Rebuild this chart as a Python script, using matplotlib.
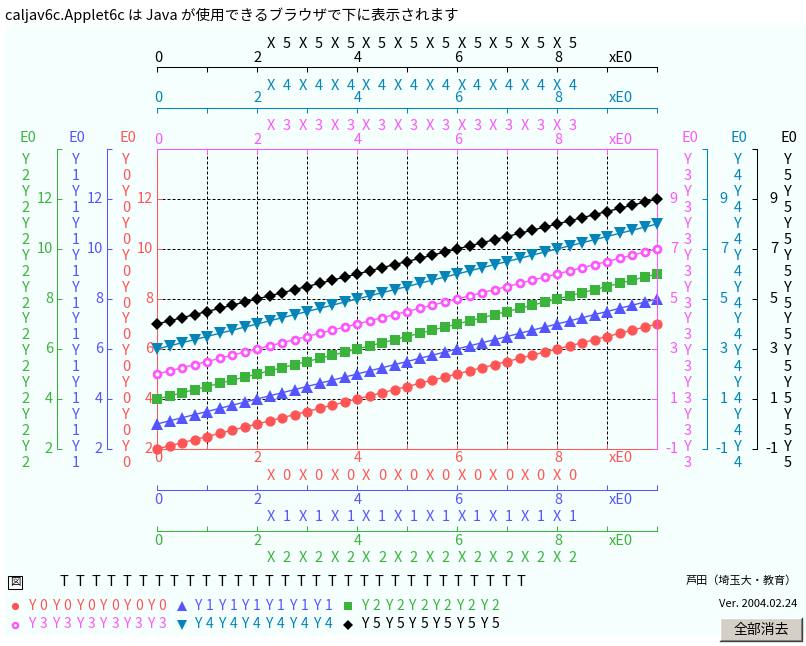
import matplotlib
matplotlib.use('Agg')
import matplotlib.pyplot as plt
from matplotlib.lines import Line2D
from matplotlib.patches import Rectangle
from matplotlib.transforms import blended_transform_factory as btf, ScaledTranslation

plt.rcParams['font.family'] = ['Noto Sans CJK JP', 'DejaVu Sans']

# ---------------- data ----------------
X = [0, 0.25, 0.5, 0.75, 1, 1.25, 1.5, 1.75, 2, 2.25, 2.5, 2.75, 3, 3.25, 3.5, 3.75,
     4, 4.25, 4.5, 4.75, 5, 5.25, 5.5, 5.75, 6, 6.25, 6.5, 6.75, 7, 7.25, 7.5, 7.75,
     8, 8.25, 8.5, 8.75, 9, 9.25, 9.5, 9.75, 10]
Y0 = [2, 2.125, 2.25, 2.375, 2.5, 2.625, 2.75, 2.875, 3, 3.125, 3.25, 3.375, 3.5, 3.625,
      3.75, 3.875, 4, 4.125, 4.25, 4.375, 4.5, 4.625, 4.75, 4.875, 5, 5.125, 5.25, 5.375,
      5.5, 5.625, 5.75, 5.875, 6, 6.125, 6.25, 6.375, 6.5, 6.625, 6.75, 6.875, 7]
Y1 = [3, 3.125, 3.25, 3.375, 3.5, 3.625, 3.75, 3.875, 4, 4.125, 4.25, 4.375, 4.5, 4.625,
      4.75, 4.875, 5, 5.125, 5.25, 5.375, 5.5, 5.625, 5.75, 5.875, 6, 6.125, 6.25, 6.375,
      6.5, 6.625, 6.75, 6.875, 7, 7.125, 7.25, 7.375, 7.5, 7.625, 7.75, 7.875, 8]
Y2 = [4, 4.125, 4.25, 4.375, 4.5, 4.625, 4.75, 4.875, 5, 5.125, 5.25, 5.375, 5.5, 5.625,
      5.75, 5.875, 6, 6.125, 6.25, 6.375, 6.5, 6.625, 6.75, 6.875, 7, 7.125, 7.25, 7.375,
      7.5, 7.625, 7.75, 7.875, 8, 8.125, 8.25, 8.375, 8.5, 8.625, 8.75, 8.875, 9]
# right-hand scale series
Y3 = [2, 2.125, 2.25, 2.375, 2.5, 2.625, 2.75, 2.875, 3, 3.125, 3.25, 3.375, 3.5, 3.625,
      3.75, 3.875, 4, 4.125, 4.25, 4.375, 4.5, 4.625, 4.75, 4.875, 5, 5.125, 5.25, 5.375,
      5.5, 5.625, 5.75, 5.875, 6, 6.125, 6.25, 6.375, 6.5, 6.625, 6.75, 6.875, 7]
Y4 = [3, 3.125, 3.25, 3.375, 3.5, 3.625, 3.75, 3.875, 4, 4.125, 4.25, 4.375, 4.5, 4.625,
      4.75, 4.875, 5, 5.125, 5.25, 5.375, 5.5, 5.625, 5.75, 5.875, 6, 6.125, 6.25, 6.375,
      6.5, 6.625, 6.75, 6.875, 7, 7.125, 7.25, 7.375, 7.5, 7.625, 7.75, 7.875, 8]
Y5 = [4, 4.125, 4.25, 4.375, 4.5, 4.625, 4.75, 4.875, 5, 5.125, 5.25, 5.375, 5.5, 5.625,
      5.75, 5.875, 6, 6.125, 6.25, 6.375, 6.5, 6.625, 6.75, 6.875, 7, 7.125, 7.25, 7.375,
      7.5, 7.625, 7.75, 7.875, 8, 8.125, 8.25, 8.375, 8.5, 8.625, 8.75, 8.875, 9]

X_TICKS = [0, 2, 4, 6, 8]
X_TICK_LABELS = ['0', '2', '4', '6', '8']
X_UNIT = 'xE0'
YL_TICKS = [2, 4, 6, 8, 10, 12]
YR_TICKS = [-1, 1, 3, 5, 7, 9]
Y_UNIT = 'E0'
X_TITLES = ['X0' * 10, 'X1' * 10, 'X2' * 10, 'X3' * 10, 'X4' * 10, 'X5' * 10]
Y_TITLES = ['Y0' * 10, 'Y1' * 10, 'Y2' * 10, 'Y3' * 10, 'Y4' * 10, 'Y5' * 10]
LEGEND_LABELS = ['Y0' * 6, 'Y1' * 6, 'Y2' * 6, 'Y3' * 6, 'Y4' * 6, 'Y5' * 6]
TITLE = 'caljav6c.Applet6c は Java が使用できるブラウザで下に表示されます'
FIG_LABEL = '図'
T_ROW = 'T' * 30
AUTHOR = '芦田（埼玉大・教育）'
VERSION = 'Ver. 2004.02.24'
BUTTON = '全部消去'

# ---------------- style ----------------
W, H = 806, 646
BG = '#f5fffe'
RED = '#ff5555'
BLUE = '#5555ff'
GREEN = '#3cb43c'
MAG = '#ff55ff'
TEAL = '#0484b8'
BLACK = '#000000'
LW = 0.75
TL = 3.6
FS = 10.5

fig = plt.figure(figsize=(W / 100, H / 100), dpi=100)
fig.patch.set_facecolor('white')


def fx(p):
    return p / W


def fy(p):
    return 1 - p / H


fig.add_artist(Rectangle((fx(5), fy(636)), fx(806) - fx(5), fy(25) - fy(636),
                         transform=fig.transFigure, facecolor=BG, edgecolor='none', zorder=-5))

L, R, T, B = 157, 657, 149, 449
ax = fig.add_axes([fx(L), fy(B), (R - L) / W, (B - T) / H])
ax.set_xlim(0, 10)
ax.set_ylim(2, 14)
ax.patch.set_visible(False)

axR = ax.twinx()
axR.set_ylim(-1, 11)


def style_y(a, side, off_px, color, ticks):
    for k, s in a.spines.items():
        s.set_visible(k == side)
    sp = a.spines[side]
    sp.set_position(('outward', off_px * 0.72))
    sp.set_color(color)
    sp.set_linewidth(LW)
    a.yaxis.set_ticks_position(side)
    a.set_yticks(ticks)
    a.tick_params(axis='y', which='both', direction='in', length=TL, width=LW, color=color,
                  labelleft=False, labelright=False)
    a.patch.set_visible(False)


def new_y(side, off_px, color, lim, ticks):
    a = ax.twinx()
    a.set_ylim(*lim)
    style_y(a, side, off_px, color, ticks)
    return a


def new_x(side, off_px, color):
    a = ax.twiny()
    a.set_xlim(0, 10)
    for k, s in a.spines.items():
        s.set_visible(k == side)
    sp = a.spines[side]
    sp.set_position(('outward', off_px * 0.72))
    sp.set_color(color)
    sp.set_linewidth(LW)
    a.xaxis.set_ticks_position(side)
    a.set_xticks(range(11))
    a.tick_params(axis='x', which='both', direction='in', length=TL, width=LW, color=color,
                  labelbottom=False, labeltop=False)
    a.patch.set_visible(False)
    return a


style_y(axR, 'right', 0, MAG, range(-1, 12, 2))
axT = new_x('top', 0, MAG)
axT4 = new_x('top', 41, TEAL)
axT5 = new_x('top', 82, BLACK)
axB1 = new_x('bottom', 41, BLUE)
axB2 = new_x('bottom', 82, GREEN)
axL1 = new_y('left', 50, BLUE, (2, 14), range(2, 15, 2))
axL2 = new_y('left', 100, GREEN, (2, 14), range(2, 15, 2))
axR4 = new_y('right', 50, TEAL, (-1, 11), range(-1, 12, 2))
axR5 = new_y('right', 100, BLACK, (-1, 11), range(-1, 12, 2))

# main frame (left / bottom red)
for k in ('top', 'right'):
    ax.spines[k].set_visible(False)
for k in ('left', 'bottom'):
    ax.spines[k].set_color(RED)
    ax.spines[k].set_linewidth(LW)
ax.set_xticks(range(11))
ax.set_yticks(range(2, 15, 2))
ax.tick_params(axis='x', direction='in', length=TL, width=LW, color=RED,
               top=False, bottom=True, labelbottom=False, labeltop=False)
ax.tick_params(axis='y', direction='in', length=TL, width=LW, color=RED,
               right=False, left=True, labelleft=False, labelright=False)
ax.grid(True, color='black', linestyle=(0, (3, 2)), linewidth=0.72)
gx = ax.get_xgridlines()
gx[0].set_visible(False)
gx[-1].set_visible(False)
gy = ax.get_ygridlines()
gy[0].set_visible(False)
gy[-1].set_visible(False)

# ---------------- series ----------------
ax.plot(X, Y0, color=RED, lw=1, marker='o', ms=7.4, mew=0, clip_on=False, zorder=5)
ax.plot(X, Y1, color=BLUE, lw=1, marker='^', ms=8.5, mew=0, clip_on=False, zorder=5)
ax.plot(X, Y2, color=GREEN, lw=1, marker='s', ms=7.2, mew=0, clip_on=False, zorder=5)
axR.plot(X, Y3, color=MAG, lw=1, marker='o', ms=5, mew=2, mfc=BG, mec=MAG, clip_on=False, zorder=5)
axR.plot(X, Y4, color=TEAL, lw=1, marker='v', ms=8.5, mew=0, clip_on=False, zorder=5)
axR.plot(X, Y5, color=BLACK, lw=1, marker='D', ms=6, mew=0, clip_on=False, zorder=5)

# ---------------- tick labels ----------------
tx = btf(ax.transData, fig.transFigure)
shift1 = ScaledTranslation(1 / 100, 0, fig.dpi_scale_trans)
x_axes = [(458, RED), (500, BLUE), (541, GREEN), (140, MAG), (98.5, TEAL), (58, BLACK)]
for ypx, col in x_axes:
    for v, s in zip(X_TICKS, X_TICK_LABELS):
        fig.text(v, fy(ypx), s, transform=tx + shift1, ha='center', va='center',
                 color=col, fontsize=FS)
    fig.text(9, fy(ypx), X_UNIT, transform=tx + ScaledTranslation(2 / 100, 0, fig.dpi_scale_trans),
             ha='left', va='center', color=col, fontsize=FS)

tyl = btf(fig.transFigure, ax.transData)
tyr = btf(fig.transFigure, axR.transData)
for xpx, col in [(153, RED), (103, BLUE), (53, GREEN)]:
    for v in YL_TICKS:
        fig.text(fx(xpx), v, str(v), transform=tyl, ha='right', va='center', color=col, fontsize=FS)
for xpx, col in [(678, MAG), (728, TEAL), (778, BLACK)]:
    for v in YR_TICKS:
        fig.text(fx(xpx), v, str(v), transform=tyr, ha='right', va='center', color=col, fontsize=FS)

# ---------------- axis titles ----------------
x_title_pos = [(476, RED), (517, BLUE), (557.5, GREEN), (126.5, MAG), (85.5, TEAL), (44, BLACK)]
for (ypx, col), title in zip(x_title_pos, X_TITLES):
    for i, ch in enumerate(title):
        fig.text(fx(271 + i * 15.87), fy(ypx), ch, ha='center', va='center', color=col, fontsize=FS)

y_title_pos = [(126, RED), (75.5, BLUE), (26, GREEN), (688, MAG), (737.5, TEAL), (787.5, BLACK)]
for (xpx, col), title in zip(y_title_pos, Y_TITLES):
    for i, ch in enumerate(title):
        fig.text(fx(xpx), fy(160 + i * 15.95), ch, ha='center', va='center', color=col, fontsize=FS)
    fig.text(fx(xpx + 1.5), fy(137.5), Y_UNIT, ha='center', va='center', color=col, fontsize=FS)

# ---------------- header ----------------
fig.text(fx(5), fy(15), TITLE, ha='left', va='center', fontsize=10.5, color='black')

# ---------------- legend ----------------
fig.add_artist(Rectangle((fx(8), fy(589)), fx(22) - fx(8), fy(576) - fy(589),
                         transform=fig.transFigure, facecolor='white', edgecolor='black', lw=0.75))
fig.text(fx(15), fy(582.5), FIG_LABEL, ha='center', va='center', fontsize=7.5)
for i, ch in enumerate(T_ROW):
    fig.text(fx(64 + i * 15.77), fy(582), ch, ha='center', va='center', fontsize=FS)

leg_markers = [
    dict(marker='o', color=RED, ms=5.2, mew=0),
    dict(marker='^', color=BLUE, ms=7, mew=0),
    dict(marker='s', color=GREEN, ms=5.5, mew=0),
    dict(marker='o', color=MAG, ms=3.8, mew=1.6, mfc=BG, mec=MAG),
    dict(marker='v', color=TEAL, ms=7, mew=0),
    dict(marker='D', color=BLACK, ms=5, mew=0),
]
leg_colors = [RED, BLUE, GREEN, MAG, TEAL, BLACK]
mx = [15, 182, 348]
tx0 = [31.7, 197.5, 364.5]
rows = [606, 624.5]
for k in range(6):
    r, c = divmod(k, 3)
    fig.add_artist(Line2D([fx(mx[c])], [fy(rows[r])], transform=fig.transFigure,
                          linestyle='none', **leg_markers[k]))
    for i, ch in enumerate(LEGEND_LABELS[k]):
        fig.text(fx(tx0[c] + i * 11.9), fy(rows[r]), ch, ha='center', va='center',
                 color=leg_colors[k], fontsize=10)

# ---------------- right footer ----------------
fig.text(fx(797), fy(581), AUTHOR, ha='right', va='center', fontsize=8)
fig.text(fx(797), fy(604), VERSION, ha='right', va='center', fontsize=8)

bx0, bx1, by0, by1 = 720, 802, 618, 641
fig.add_artist(Rectangle((fx(bx0), fy(by1)), fx(bx1) - fx(bx0), fy(by0) - fy(by1),
                         transform=fig.transFigure, facecolor='#d4d0c8', edgecolor='none'))
fig.add_artist(Line2D([fx(bx0), fx(bx0), fx(bx1)], [fy(by1), fy(by0), fy(by0)],
                      transform=fig.transFigure, color='white', lw=1))
fig.add_artist(Line2D([fx(bx0), fx(bx1), fx(bx1)], [fy(by1), fy(by1), fy(by0)],
                      transform=fig.transFigure, color='#404040', lw=1))
fig.add_artist(Line2D([fx(bx0 + 1), fx(bx1 - 1), fx(bx1 - 1)], [fy(by1 - 1), fy(by1 - 1), fy(by0 + 1)],
                      transform=fig.transFigure, color='#808080', lw=0.75))
fig.text(fx((bx0 + bx1) / 2), fy((by0 + by1) / 2), BUTTON, ha='center', va='center', fontsize=10)

fig.savefig('out.png', dpi=100, facecolor='white')
